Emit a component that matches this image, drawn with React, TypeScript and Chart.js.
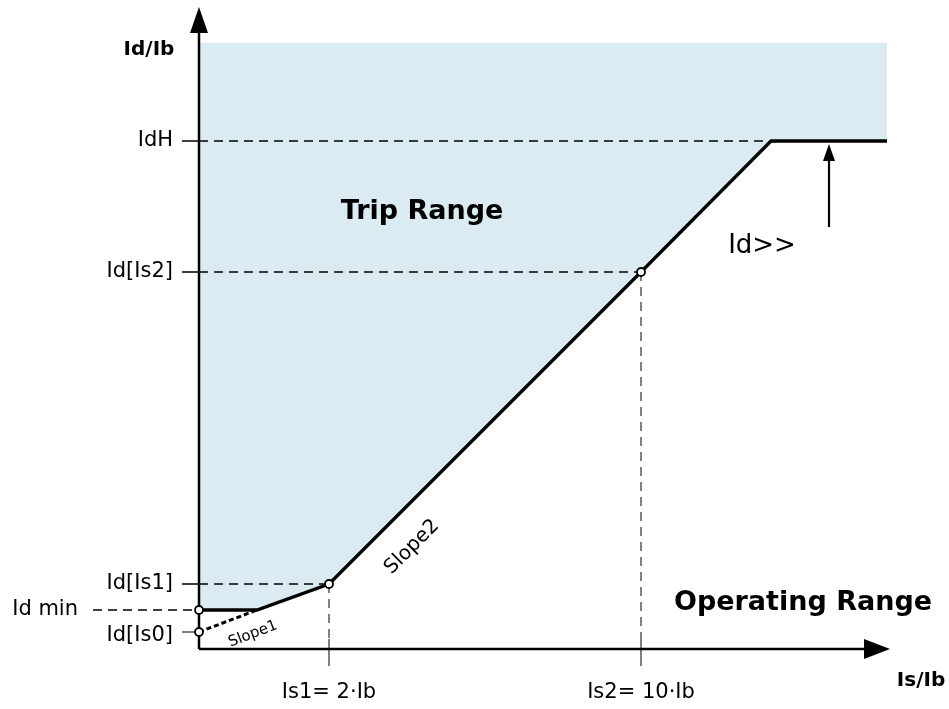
import React, { useEffect, useRef } from "react";
import { Chart, registerables } from "chart.js";

Chart.register(...registerables);

// Schematic coordinates of the tripping characteristic (arbitrary units)
const curveX = [0, 5.8, 13.0, 44.2, 57.2, 68.8];
const curveY = [3.9, 3.9, 6.5, 37.7, 50.8, 50.8];
const curveMarked = [true, false, true, true, false, false];
const slope1X = [0, 5.8];
const slope1Y = [1.7, 3.9];
const tripTop = 60.6;

const yTickValues = [50.8, 37.7, 6.5, 3.9, 1.7];
const yTickLabels = ["IdH", "Id[Is2]", "Id[Is1]", "Id min", "Id[Is0]"];
const xTickValues = [13.0, 44.2];
const xTickLabels = ["Is1= 2·Ib", "Is2= 10·Ib"];

const xAxisEnd = 69.1;
const yAxisEnd = 64.2;
const idHighArrowX = 63.0;
const idHighArrowFrom = 42.2;

const FONT = "'DejaVu Sans', sans-serif";

type Lbl = { text: string; x: number; y: number; font: string; align: CanvasTextAlign; rot?: number };

const labels: Lbl[] = [
  { text: "Trip Range", x: 22.3, y: 43.7, font: `bold 27px ${FONT}`, align: "center" },
  { text: "Operating Range", x: 60.4, y: 4.6, font: `bold 27px ${FONT}`, align: "center" },
  { text: "Id>>", x: 56.3, y: 40.3, font: `26px ${FONT}`, align: "center" },
  { text: "Id/Ib", x: -5.0, y: 59.9, font: `bold 20px ${FONT}`, align: "center" },
  { text: "Is/Ib", x: 72.2, y: -3.2, font: `bold 20px ${FONT}`, align: "center" },
  { text: "Slope2", x: 21.3, y: 10.2, font: `20px ${FONT}`, align: "center", rot: -45 },
  { text: "Slope1", x: 5.4, y: 1.5, font: `15px ${FONT}`, align: "center", rot: -21 },
];

function seg(x0: number, y0: number, x1: number, y1: number, color: string, width: number, dash: number[], order: number) {
  return {
    type: "line" as const,
    data: [
      { x: x0, y: y0 },
      { x: x1, y: y1 },
    ],
    borderColor: color,
    borderWidth: width,
    borderDash: dash,
    pointRadius: 0,
    fill: false,
    order,
  };
}

const annotationPlugin = {
  id: "annot",
  afterDatasetsDraw(chart: any) {
    const ctx: CanvasRenderingContext2D = chart.ctx;
    const xs = chart.scales.x;
    const ys = chart.scales.y;
    const px = (v: number) => xs.getPixelForValue(v);
    const py = (v: number) => ys.getPixelForValue(v);
    ctx.save();
    ctx.fillStyle = "#000";
    ctx.strokeStyle = "#000";

    const head = (tx: number, ty: number, dx: number, dy: number, len: number, w: number) => {
      ctx.beginPath();
      ctx.moveTo(tx, ty);
      ctx.lineTo(tx - dx * len - dy * w / 2, ty - dy * len + dx * w / 2);
      ctx.lineTo(tx - dx * len + dy * w / 2, ty - dy * len - dx * w / 2);
      ctx.closePath();
      ctx.fill();
    };
    // axis arrowheads
    head(px(0), py(yAxisEnd), 0, -1, 26, 18);
    head(px(xAxisEnd), py(0), 1, 0, 26, 20);
    // Id>> arrow
    ctx.lineWidth = 2.2;
    ctx.beginPath();
    ctx.moveTo(px(idHighArrowX), py(idHighArrowFrom));
    ctx.lineTo(px(idHighArrowX), py(curveY[4]) + 14);
    ctx.stroke();
    head(px(idHighArrowX), py(curveY[4]) + 3, 0, -1, 17, 12);

    // tick labels
    ctx.textBaseline = "middle";
    ctx.font = `21px ${FONT}`;
    yTickLabels.forEach((t, i) => {
      const isMin = t === "Id min";
      ctx.textAlign = "right";
      const off = i === 4 ? 4 : 0;
      ctx.fillText(t, isMin ? px(-12.1) : px(-2.6), py(yTickValues[i]) + off);
    });
    xTickLabels.forEach((t, i) => {
      ctx.textAlign = "center";
      ctx.fillText(t, px(xTickValues[i]), py(-4.4));
    });

    labels.forEach((l) => {
      ctx.save();
      ctx.font = l.font;
      ctx.textAlign = l.align;
      ctx.textBaseline = "middle";
      ctx.translate(px(l.x), py(l.y));
      if (l.rot) ctx.rotate((l.rot * Math.PI) / 180);
      ctx.fillText(l.text, 0, 0);
      ctx.restore();
    });
    ctx.restore();
  },
};

export default function App() {
  const ref = useRef<HTMLCanvasElement | null>(null);
  useEffect(() => {
    if (!ref.current) return;
    const black = "#000000";
    const gray = "#808080";
    const dash = [9, 6];
    const datasets: any[] = [
      {
        type: "line",
        data: curveX.map((x, i) => ({ x, y: curveY[i] })),
        borderWidth: 0,
        borderColor: "rgba(0,0,0,0)",
        backgroundColor: "rgb(218,236,242)",
        pointRadius: 0,
        fill: { value: tripTop },
        order: 30,
      },
      // guide lines (horizontal)
      seg(0, curveY[5], curveX[4], curveY[5], black, 1.5, dash, 20),
      seg(-1.7, curveY[5], 0, curveY[5], black, 1.5, [], 20),
      seg(0, curveY[3], curveX[3], curveY[3], black, 1.5, dash, 20),
      seg(-1.7, curveY[3], 0, curveY[3], black, 1.5, [], 20),
      seg(0, curveY[2], curveX[2], curveY[2], black, 1.5, dash, 20),
      seg(-1.7, curveY[2], 0, curveY[2], black, 1.5, [], 20),
      seg(-10.6, curveY[0], 0, curveY[0], black, 1.5, dash, 20),
      seg(-1.7, slope1Y[0], 0, slope1Y[0], gray, 2, [], 20),
      // guide lines (vertical)
      seg(curveX[2], curveY[2], curveX[2], 0, gray, 2, dash, 20),
      seg(curveX[2], 1.0, curveX[2], -1.7, gray, 2, [], 20),
      seg(curveX[3], curveY[3], curveX[3], 0, gray, 2, dash, 20),
      seg(curveX[3], 1.0, curveX[3], -1.7, gray, 2, [], 20),
      // axes
      seg(0, 0, 0, yAxisEnd - 2, black, 2.5, [], 10),
      seg(0, 0, xAxisEnd - 2, 0, black, 2.5, [], 10),
      // slope1 extension
      {
        type: "line",
        data: slope1X.map((x, i) => ({ x, y: slope1Y[i] })),
        borderColor: black,
        borderWidth: 3,
        borderDash: [5, 3],
        pointRadius: [4, 0],
        pointBackgroundColor: "#fff",
        pointBorderColor: black,
        pointBorderWidth: 1.8,
        fill: false,
        order: 5,
      },
      // characteristic
      {
        type: "line",
        data: curveX.map((x, i) => ({ x, y: curveY[i] })),
        borderColor: black,
        borderWidth: 3.3,
        pointRadius: curveMarked.map((m) => (m ? 4 : 0)),
        pointBackgroundColor: "#fff",
        pointBorderColor: black,
        pointBorderWidth: 1.8,
        fill: false,
        order: 2,
      },
    ];
    const chart = new Chart(ref.current, {
      type: "scatter",
      data: { datasets },
      options: {
        animation: false,
        responsive: true,
        maintainAspectRatio: false,
        layout: { padding: 0, autoPadding: false },
        showLine: true,
        elements: { line: { tension: 0, borderCapStyle: "butt", borderJoinStyle: "miter" } },
        plugins: { legend: { display: false }, tooltip: { enabled: false } },
        scales: {
          x: { type: "linear", min: -19.9, max: 75.0, display: false },
          y: { type: "linear", min: -6.0, max: 64.9, display: false },
        },
      } as any,
      plugins: [annotationPlugin],
    });
    return () => chart.destroy();
  }, []);
  return (
    <div style={{ position: "fixed", left: 0, top: 0, width: 949, height: 709, background: "#fff" }}>
      <canvas ref={ref} />
    </div>
  );
}
